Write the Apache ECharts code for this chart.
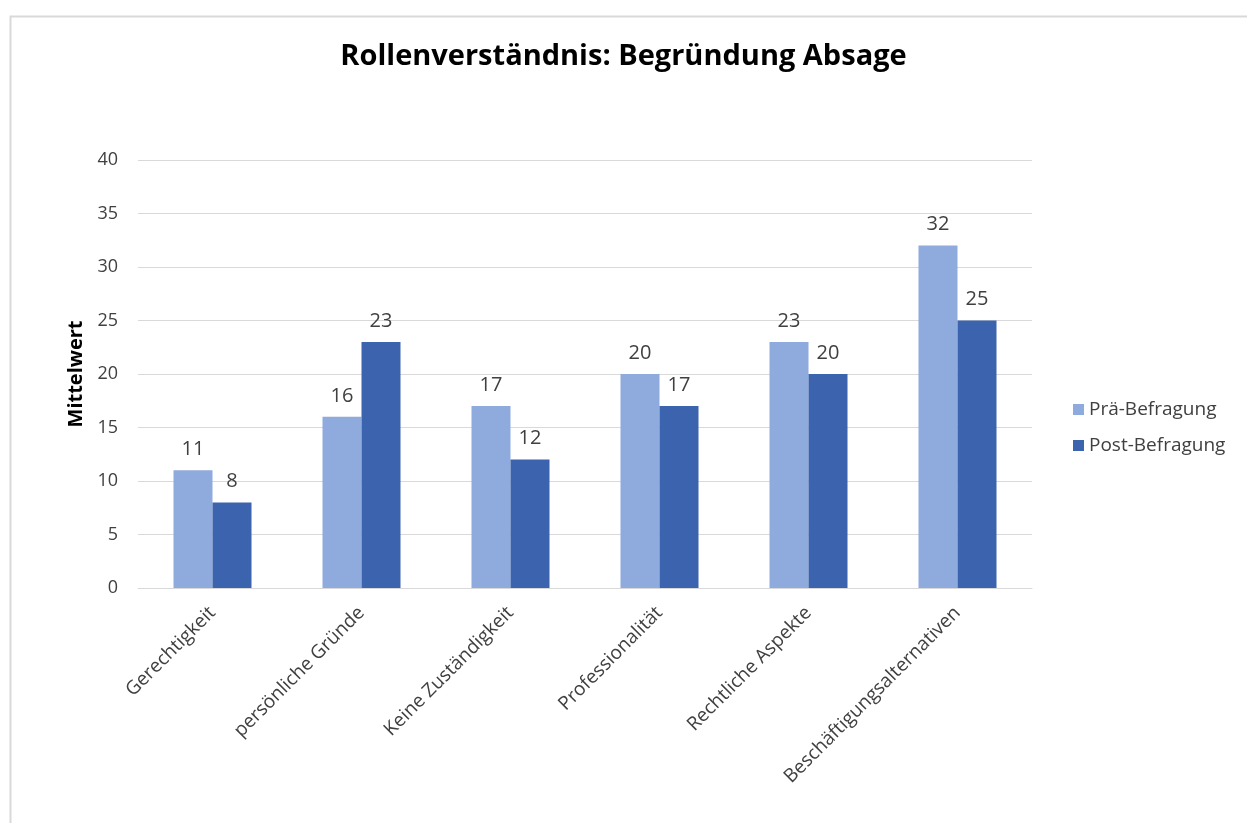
<!DOCTYPE html>
<html>
<head>
<meta charset="utf-8">
<script src="https://cdn.jsdelivr.net/npm/echarts@6/dist/echarts.min.js"></script>
<style>
html,body{margin:0;padding:0;background:#fff;}
#chart{width:1247px;height:823px;}
</style>
</head>
<body>
<div id="chart"></div>
<script>
const title = 'Rollenverständnis: Begründung Absage';
const categories = ['Gerechtigkeit', 'persönliche Gründe', 'Keine Zuständigkeit', 'Professionalität', 'Rechtliche Aspekte', 'Beschäftigungsalternativen'];
const seriesNames = ['Prä-Befragung', 'Post-Befragung'];
const preValues = [11, 16, 17, 20, 23, 32];
const postValues = [8, 23, 12, 17, 20, 25];
const yAxisName = 'Mittelwert';

const font = 'Open Sans';
const chart = echarts.init(document.getElementById('chart'), null, {renderer: 'canvas'});
chart.setOption({
  backgroundColor: '#fff',
  animation: false,
  graphic: [{
    type: 'rect', left: 8, top: 14,
    shape: {width: 1260, height: 830},
    style: {fill: 'none', stroke: '#d9d9d9', lineWidth: 2},
    silent: true
  }],
  title: {
    text: title, left: 'center', top: 37,
    textStyle: {fontFamily: font, fontWeight: 'bold', fontSize: 29, color: '#000'}
  },
  legend: {
    orient: 'vertical', left: 1068, top: 395,
    itemWidth: 11, itemHeight: 11, itemGap: 17, icon: 'rect',
    textStyle: {fontFamily: font, fontSize: 19, color: '#404040'},
    data: seriesNames
  },
  grid: {left: 138, right: 215, top: 160, bottom: 235, containLabel: false},
  xAxis: {
    type: 'category', data: categories,
    axisLine: {show: true, lineStyle: {color: '#d9d9d9', width: 1}},
    axisTick: {show: false},
    axisLabel: {rotate: 45, margin: 22, interval: 0, fontFamily: font, fontSize: 19, color: '#404040'}
  },
  yAxis: {
    type: 'value', min: 0, max: 40, interval: 5,
    name: yAxisName, nameLocation: 'middle', nameGap: 52, nameRotate: 90,
    nameTextStyle: {fontFamily: font, fontWeight: 'bold', fontSize: 20, color: '#000'},
    axisLine: {show: false}, axisTick: {show: false},
    axisLabel: {fontFamily: font, fontSize: 18, color: '#404040', margin: 20},
    splitLine: {lineStyle: {color: '#d9d9d9', width: 1}}
  },
  series: [
    {
      name: seriesNames[0], type: 'bar', data: preValues,
      barWidth: 39, barGap: '0%',
      itemStyle: {color: '#8FAADC'},
      label: {show: true, position: 'top', distance: 11, fontFamily: font, fontSize: 20, color: '#404040'}
    },
    {
      name: seriesNames[1], type: 'bar', data: postValues,
      barWidth: 39, barGap: '0%',
      itemStyle: {color: '#3C64AE'},
      label: {show: true, position: 'top', distance: 11, fontFamily: font, fontSize: 20, color: '#404040'}
    }
  ]
});
</script>
</body>
</html>
